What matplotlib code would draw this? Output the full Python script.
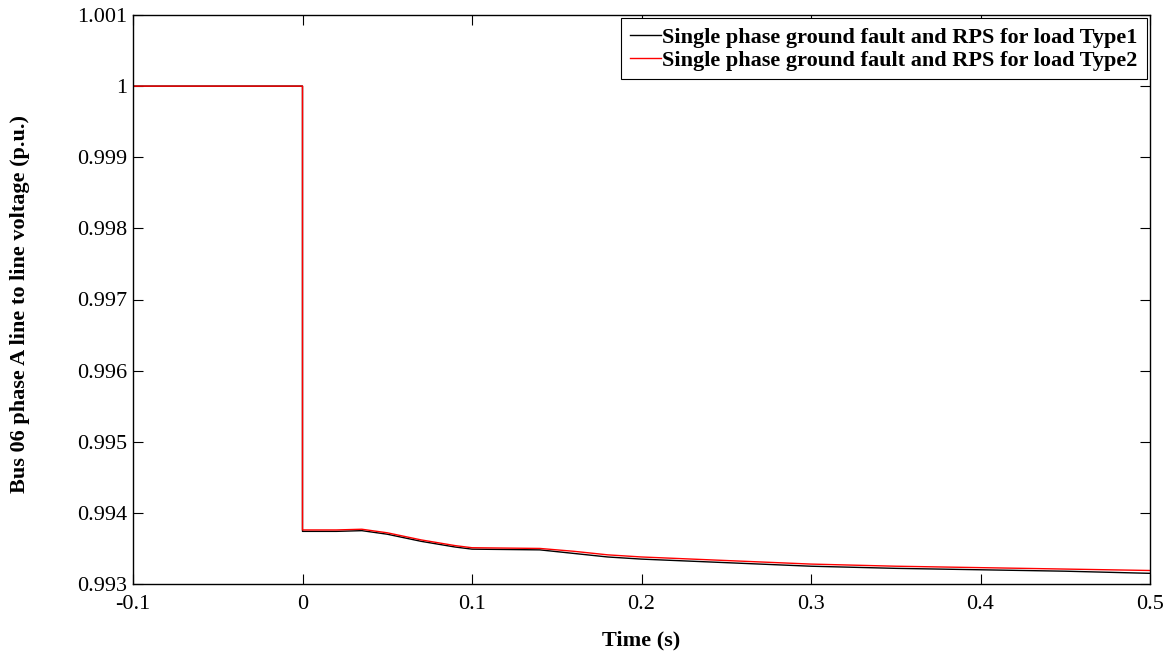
import matplotlib
matplotlib.use("Agg")
import matplotlib.pyplot as plt
from matplotlib.ticker import FuncFormatter

t1 = [-0.1, 0.0, 0.0, 0.02, 0.035, 0.05, 0.07, 0.09, 0.10, 0.14, 0.16, 0.18, 0.20, 0.25, 0.30, 0.35, 0.40, 0.45, 0.50]
v1 = [1.0, 1.0, 0.99374, 0.99374, 0.99375, 0.99370, 0.99360, 0.99352, 0.99349, 0.99348, 0.99343, 0.99338, 0.99335, 0.99330, 0.99325, 0.99322, 0.99320, 0.99318, 0.99315]
t2 = [-0.1, 0.0, 0.0, 0.02, 0.035, 0.05, 0.07, 0.09, 0.10, 0.14, 0.16, 0.18, 0.20, 0.25, 0.30, 0.35, 0.40, 0.45, 0.50]
v2 = [1.0, 1.0, 0.99376, 0.99376, 0.99377, 0.99372, 0.99362, 0.99354, 0.99351, 0.99350, 0.99346, 0.99341, 0.99338, 0.99333, 0.99328, 0.99325, 0.99323, 0.99321, 0.99319]
labels = ["Single phase ground fault and RPS for load Type1",
          "Single phase ground fault and RPS for load Type2"]
xticks = [-0.1, 0, 0.1, 0.2, 0.3, 0.4, 0.5]
yticks = [0.993, 0.994, 0.995, 0.996, 0.997, 0.998, 0.999, 1.0, 1.001]

plt.rcParams['font.family'] = ['Liberation Serif', 'DejaVu Serif']
fig = plt.figure(figsize=(11.68, 6.56), dpi=100)
ax = fig.add_axes([133/1168, 1 - 584/656, (1150-133)/1168, (584-15)/656])
ax.plot(t1, v1, color='black', lw=1.0, label=labels[0])
ax.plot(t2, v2, color='red', lw=1.0, label=labels[1])
ax.set_xlim(-0.1, 0.5)
ax.set_ylim(0.993, 1.001)
ax.set_xticks(xticks)
ax.set_yticks(yticks)
ax.xaxis.set_major_formatter(FuncFormatter(lambda v, p: ('%g' % round(v, 4))))
ax.yaxis.set_major_formatter(FuncFormatter(lambda v, p: ('%g' % round(v, 4))))
ax.tick_params(direction='in', top=True, right=True, labelsize=16, length=7, width=0.8)
ax.tick_params(axis='x', pad=8)
ax.tick_params(axis='y', pad=4)
for s in ax.spines.values():
    s.set_linewidth(1.0)
ax.set_xlabel("Time (s)", fontsize=16, fontweight='bold')
ax.set_ylabel("Bus 06 phase A line to line voltage (p.u.)", fontsize=16, fontweight='bold')
ax.xaxis.set_label_coords(0.4995, -(640 - 584) / 569, transform=ax.transAxes)
ax.yaxis.set_label_coords(-(133 - 20) / 1017, (584 - 304) / 569, transform=ax.transAxes)
ax.xaxis.label.set_va('center')
ax.yaxis.label.set_va('center')
leg = ax.legend(loc='upper right', prop={'weight': 'bold', 'size': 16},
                fancybox=False, edgecolor='black', framealpha=1, handlelength=1.4,
                handletextpad=0.05, borderpad=0.4, labelspacing=0.1, borderaxespad=0.15)
leg.get_frame().set_linewidth(0.8)
fig.savefig("out.png", dpi=100)
